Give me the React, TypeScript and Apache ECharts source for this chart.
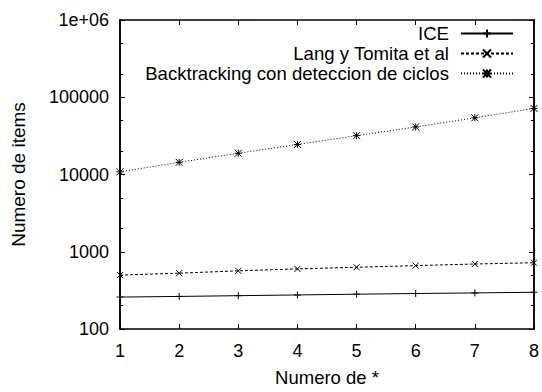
import React, { useEffect, useRef } from "react";
import * as echarts from "echarts";

const xValues = [1, 2, 3, 4, 5, 6, 7, 8];
const iceValues = [259, 264, 270, 276, 282, 288, 293, 299];
const langValues = [499, 528, 566, 600, 630, 661, 694, 721];
const backtrackValues = [10840, 14380, 18840, 24480, 31790, 41300, 54220, 71740];
const yMajorTicks = [100, 1000, 10000, 100000, 1000000];
const yMinorTicks = [200, 500, 2000, 5000, 20000, 50000, 200000, 500000];
const seriesNames = ["ICE", "Lang y Tomita et al", "Backtracking con deteccion de ciclos"];

const FONT = "Liberation Sans";
const FS = 18;

const plusPath = "path://M0,5L10,5M5,0L5,10";
const crossPath = "path://M0,0L10,10M10,0L0,10";
const starPath = "path://M0,5L10,5M5,0L5,10M0,0L10,10M10,0L0,10";

function fmtY(v: number): string {
  if (v >= 1000000) return "1e+06";
  return String(v);
}

export default function App() {
  const ref = useRef<HTMLDivElement>(null);
  useEffect(() => {
    if (!ref.current) return;
    const chart = echarts.init(ref.current, undefined, { renderer: "svg" });
    const axisLine = { show: true, lineStyle: { color: "#000", width: 1.5 } };
    const mkSeries = (name: string, vals: number[], type: any, sym: string, size: number) => ({
      name,
      type: "line",
      xAxisIndex: 0,
      yAxisIndex: 0,
      data: xValues.map((x, i) => [x, vals[i]]),
      symbol: sym,
      symbolSize: size,
      showSymbol: true,
      lineStyle: { color: "#000", width: 1, type },
      itemStyle: { color: "#000", borderColor: "#000", borderWidth: 1 },
      emphasis: { disabled: true },
      z: 3,
    });
    const yBase = (position: string, ticks: number[], len: number, labels: boolean) => ({
      type: "log",
      logBase: 10,
      min: 100,
      max: 1000000,
      position,
      axisLine,
      splitLine: { show: false },
      axisTick: {
        show: true,
        inside: true,
        length: len,
        lineStyle: { color: "#000", width: 1 },
        customValues: ticks,
      },
      axisLabel: labels
        ? {
            show: true,
            margin: 11,
            fontFamily: FONT,
            fontSize: FS,
            color: "#000",
            formatter: (v: number) => fmtY(v),
            customValues: yMajorTicks,
          }
        : { show: false },
    });
    chart.setOption({
      animation: false,
      backgroundColor: "#fff",
      textStyle: { fontFamily: FONT },
      grid: { left: 120, top: 20, width: 415, height: 317, containLabel: false },
      legend: {
        orient: "vertical",
        right: 28,
        top: 24,
        padding: 0,
        align: "right",
        itemWidth: 52,
        itemHeight: 10,
        itemGap: 1,
        selectedMode: false,
        data: seriesNames,
        textStyle: { fontFamily: FONT, fontSize: 18.6, color: "#000", padding: [0, 7, 0, 0] },
      },
      xAxis: [
        {
          type: "value",
          min: 1,
          max: 8,
          interval: 1,
          position: "bottom",
          axisLine,
          splitLine: { show: false },
          axisTick: { show: true, inside: true, length: 5, lineStyle: { color: "#000", width: 1 } },
          axisLabel: { show: true, margin: 13, fontFamily: FONT, fontSize: FS, color: "#000" },
          name: "Numero de *",
          nameLocation: "middle",
          nameGap: 39,
          nameTextStyle: { fontFamily: FONT, fontSize: 18.5, color: "#000" },
        },
        {
          type: "value",
          min: 1,
          max: 8,
          interval: 1,
          position: "top",
          axisLine,
          splitLine: { show: false },
          axisTick: { show: true, inside: true, length: 5, lineStyle: { color: "#000", width: 1 } },
          axisLabel: { show: false },
        },
      ],
      yAxis: [
        {
          ...yBase("left", yMajorTicks, 5, true),
          name: "Numero de items",
          nameLocation: "middle",
          nameGap: 92,
          nameRotate: 90,
          nameTextStyle: { fontFamily: FONT, fontSize: 19, color: "#000" },
        },
        yBase("left", yMinorTicks, 3, false),
        yBase("right", yMajorTicks, 5, false),
        yBase("right", yMinorTicks, 3, false),
      ],
      series: [
        mkSeries(seriesNames[0], iceValues, "solid", plusPath, 7),
        mkSeries(seriesNames[1], langValues, [3, 2], crossPath, 6),
        mkSeries(seriesNames[2], backtrackValues, [1, 2], starPath, 7),
      ],
    });
    return () => chart.dispose();
  }, []);
  return (
    <div
      ref={ref}
      style={{ position: "fixed", left: 0, top: 0, width: 542, height: 392, background: "#fff" }}
    />
  );
}
